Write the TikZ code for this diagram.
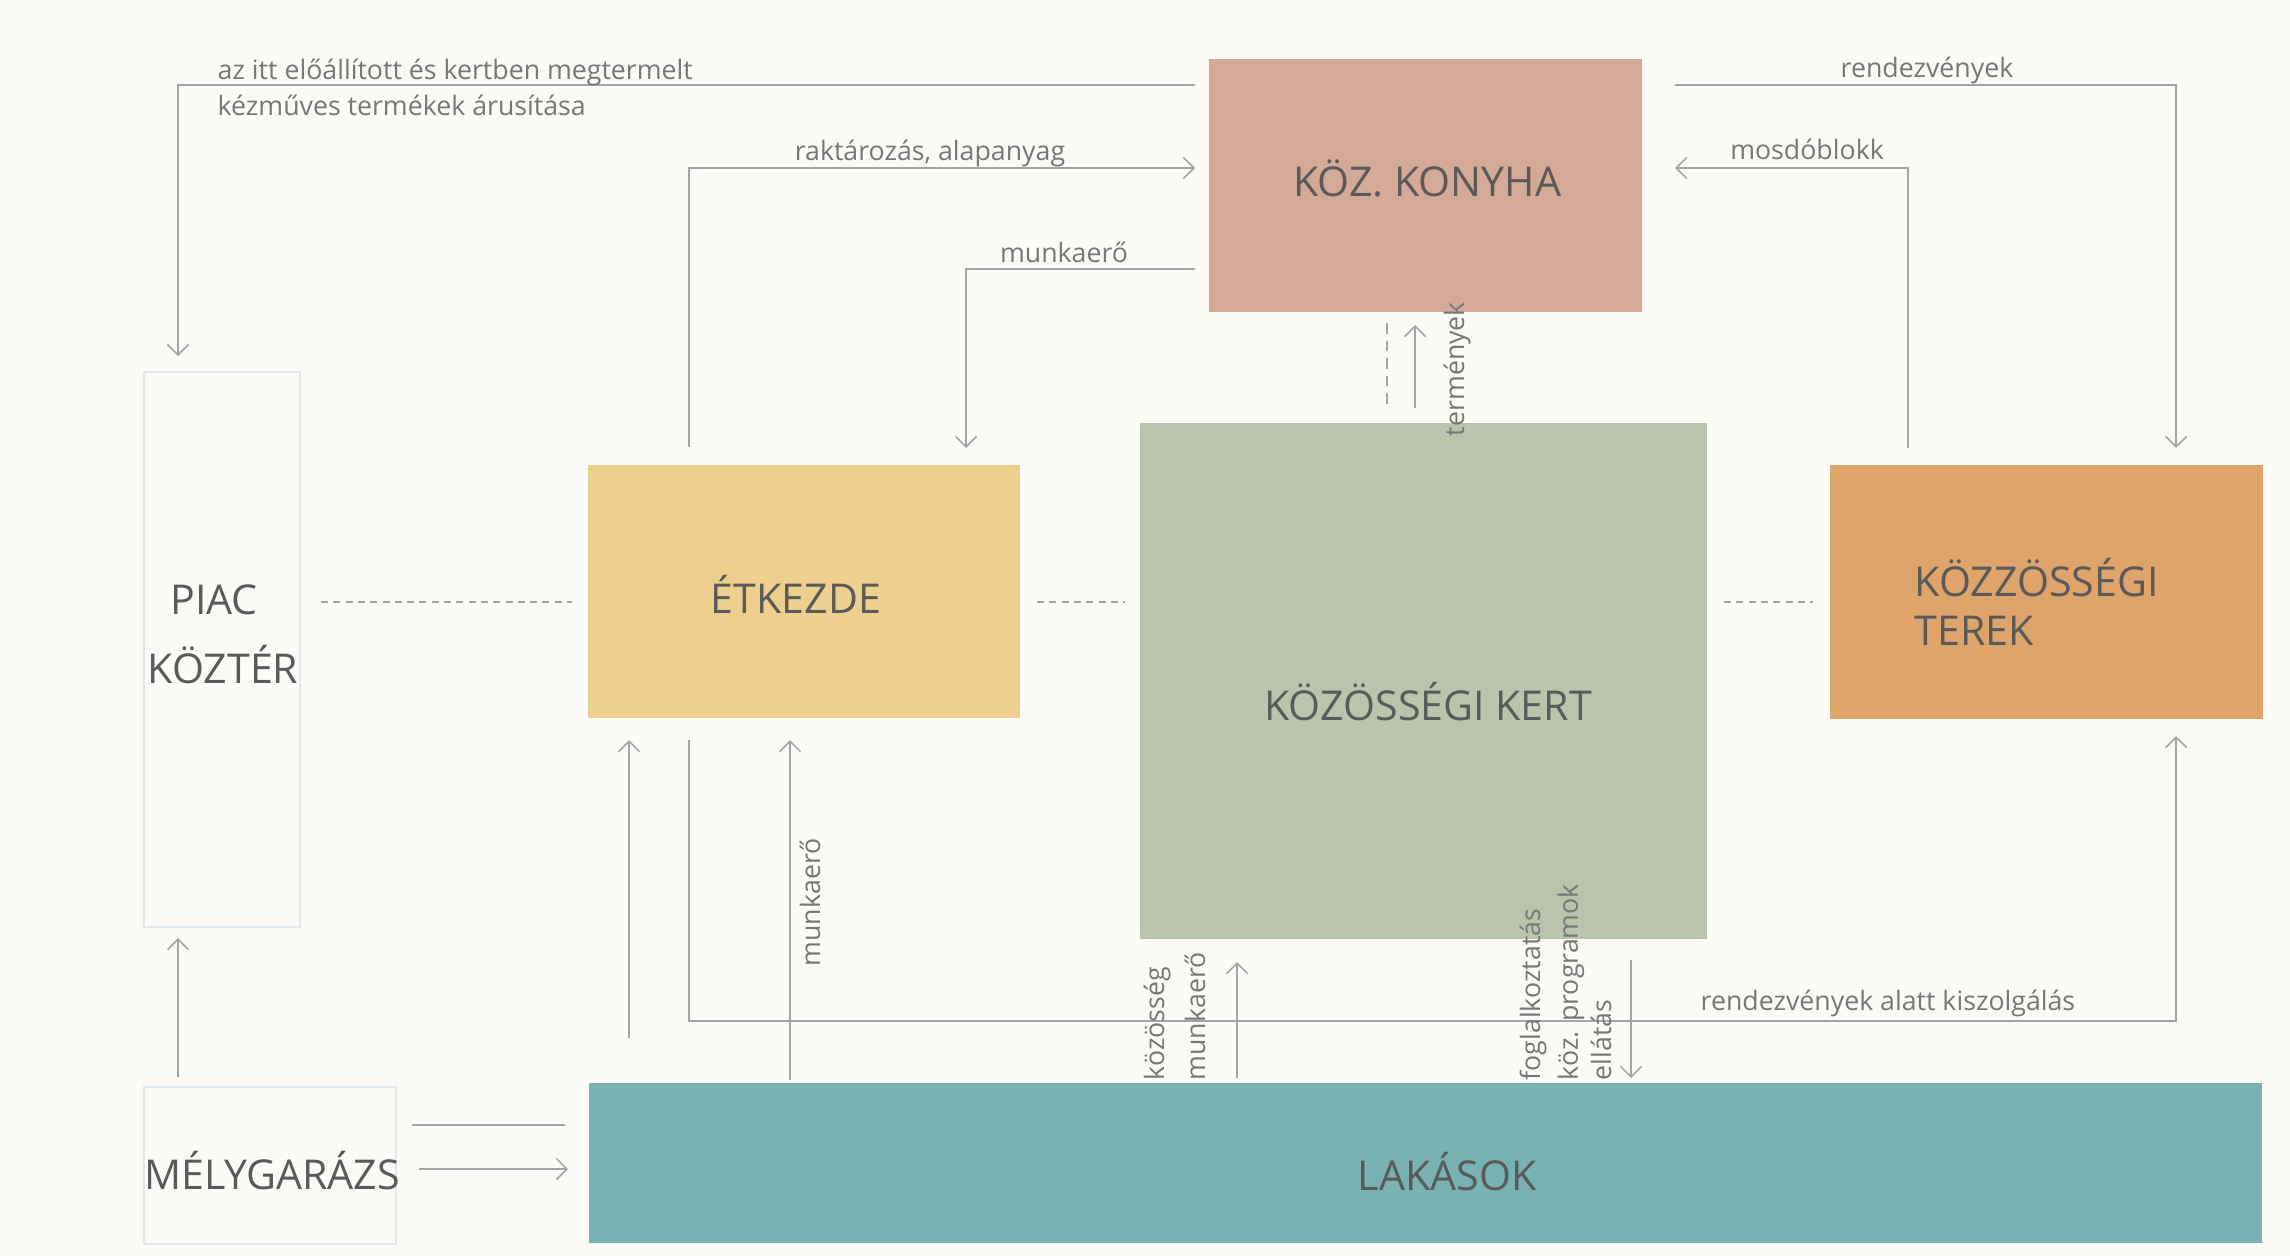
\documentclass[tikz,border=0pt]{standalone}
\usepackage{fontspec}
\setmainfont{Open Sans}
\usetikzlibrary{arrows.meta}
\definecolor{bgc}{HTML}{FDFBF8}
\definecolor{konyhac}{HTML}{D5A997}
\definecolor{etkezdec}{HTML}{EFCF8D}
\definecolor{kertc}{HTML}{BAC4AD}
\definecolor{terekc}{HTML}{DFA46A}
\definecolor{lakasc}{HTML}{79B2B3}
\definecolor{linec}{HTML}{A2A5A5}
\definecolor{textc}{HTML}{5A5A5A}
\definecolor{labelc}{HTML}{777777}
\definecolor{framec}{HTML}{E2E9EC}
\tikzset{
  box/.style={rectangle, inner sep=0pt, outer sep=0pt},
  frame/.style={box, draw=framec, line width=0.5pt},
  boxtext/.style={text=textc, font=\fontsize{11.7}{15}\selectfont, inner sep=0pt},
  lbl/.style={text=labelc, font=\fontsize{7.6}{10}\selectfont, inner sep=0pt},
  flow/.style={draw=linec, line width=0.45pt},
  arr/.style={flow, -{Straight Barb[length=3pt,width=6pt]}},
  link/.style={draw=linec, line width=0.7pt, dash pattern=on 2pt off 1.5pt},
}
\begin{document}
\begin{tikzpicture}[x=0.1mm,y=-0.1mm]
\fill[bgc] (0,0) rectangle (2290,1257);
\node[box, fill=konyhac, minimum width=43.3mm, minimum height=25.3mm] (konyha) at (1425.5,185.5){};
\node[box, fill=etkezdec, minimum width=43.2mm, minimum height=25.3mm] (etkezde) at (804,591.5){};
\node[box, fill=kertc, minimum width=56.7mm, minimum height=51.6mm] (kert) at (1423.5,681){};
\node[box, fill=terekc, minimum width=43.3mm, minimum height=25.4mm] (terek) at (2046.5,592){};
\node[box, fill=lakasc, minimum width=167.3mm, minimum height=16mm] (lakasok) at (1425.5,1163){};
\node[frame, minimum width=15.6mm, minimum height=55.5mm] (piac) at (222,649.5){};
\node[frame, minimum width=25.2mm, minimum height=15.7mm] (garazs) at (270,1165.5){};
\node[boxtext] (konyhat) at (1427,178){KÖZ. KONYHA};
\node[boxtext] (etkezdet) at (796,594){ÉTKEZDE};
\node[boxtext] (kertt) at (1428,702){KÖZÖSSÉGI KERT};
\node[boxtext, anchor=west] (terekt1) at (1914,578){KÖZZÖSSÉGI};
\node[boxtext, anchor=west] (terekt2) at (1914,631){TEREK};
\node[boxtext] (piact1) at (214,600){PIAC};
\node[boxtext] (piact2) at (223,665){KÖZTÉR};
\node[boxtext] (lakasokt) at (1447,1172){LAKÁSOK};
\node[boxtext] (garazst) at (272,1171){MÉLYGARÁZS};
\coordinate (a1) at (1195,85);
\coordinate (a2) at (178,356);
\coordinate (b1) at (689,447);
\coordinate (b2) at (1195,168);
\coordinate (c1) at (1195,269);
\coordinate (c2) at (966,448);
\coordinate (d1) at (1675,85);
\coordinate (d2) at (2176,448);
\coordinate (e1) at (1908,448);
\coordinate (e2) at (1675,168);
\coordinate (f1) at (1387,323);
\coordinate (f2) at (1387,408);
\coordinate (g1) at (1415,408);
\coordinate (g2) at (1415,325);
\coordinate (h1) at (321,602);
\coordinate (h2) at (572,602);
\coordinate (h3) at (1037,602);
\coordinate (h4) at (1125,602);
\coordinate (h5) at (1724,602);
\coordinate (h6) at (1813,602);
\coordinate (i1) at (629,1038);
\coordinate (i2) at (629,740);
\coordinate (j1) at (689,740);
\coordinate (j2) at (2176,1021);
\coordinate (j3) at (2176,736);
\coordinate (k1) at (790,1080);
\coordinate (k2) at (790,740);
\coordinate (l1) at (1237,1078);
\coordinate (l2) at (1237,962);
\coordinate (m1) at (1631,960);
\coordinate (m2) at (1631,1078);
\coordinate (n1) at (178,1077);
\coordinate (n2) at (178,938);
\coordinate (o1) at (412,1125);
\coordinate (o2) at (565,1125);
\coordinate (o3) at (419,1169);
\coordinate (o4) at (568,1169);
\draw[arr](a1) -| (a2);
\draw[arr](b1) |- (b2);
\draw[arr](c1) -| (c2);
\draw[arr](d1) -| (d2);
\draw[arr](e1) |- (e2);
\draw[link, dash pattern=on 3pt off 2pt](f1) -- (f2);
\draw[arr](g1) -- (g2);
\draw[link](h1) -- (h2);
\draw[link](h3) -- (h4);
\draw[link](h5) -- (h6);
\draw[arr](i1) -- (i2);
\draw[arr](j1) |- (j2) -- (j3);
\draw[arr](k1) -- (k2);
\draw[arr](l1) -- (l2);
\draw[arr](m1) -- (m2);
\draw[arr](n1) -- (n2);
\draw[flow](o1) -- (o2);
\draw[arr](o3) -- (o4);
\node[lbl, anchor=base west] (lbla1) at (217,79){az itt előállított és kertben megtermelt};
\node[lbl, anchor=base west] (lbla2) at (217,115){kézműves termékek árusítása};
\node[lbl, anchor=base] (lblb) at (930,160){raktározás, alapanyag};
\node[lbl, anchor=base] (lblc) at (1064,262){munkaerő};
\node[lbl, anchor=base] (lbld) at (1927,77){rendezvények};
\node[lbl, anchor=base] (lble) at (1807,159){mosdóblokk};
\node[lbl, rotate=90] (lblf) at (1457,369){termények};
\node[lbl, anchor=base west] (lblj) at (1700,1010){rendezvények alatt kiszolgálás};
\node[lbl, rotate=90, anchor=west] (lblk) at (810,967){munkaerő};
\node[lbl, rotate=90, anchor=west] (lbll1) at (1157,1081){közösség};
\node[lbl, rotate=90, anchor=west] (lbll2) at (1195,1081){munkaerő};
\node[lbl, rotate=90, anchor=west] (lblm1) at (1533,1081){foglalkoztatás};
\node[lbl, rotate=90, anchor=west] (lblm2) at (1571,1081){köz. programok};
\node[lbl, rotate=90, anchor=west] (lblm3) at (1601,1081){ellátás};
\end{tikzpicture}
\end{document}
